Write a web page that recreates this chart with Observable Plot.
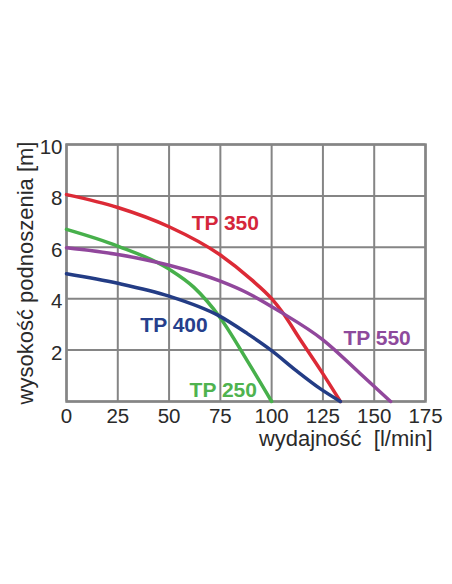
<!DOCTYPE html>
<html>
<head>
<meta charset="utf-8">
<script src="https://cdn.jsdelivr.net/npm/d3@7"></script>
<script src="https://cdn.jsdelivr.net/npm/@observablehq/plot@0.6"></script>
<style>
  body { margin: 0; background: #fff; }
</style>
</head>
<body>
<div id="chart"></div>
<script>
// pump curves: flow [l/min] vs head [m]
const tp350Q = [0, 25, 50, 75, 90, 100, 105, 114, 124, 133.5];
const tp350H = [8.05, 7.55, 6.8, 5.7, 4.75, 4.0, 3.5, 2.4, 1.2, 0];
const tp250Q = [0, 25, 50, 62, 75, 88, 100];
const tp250H = [6.7, 6.05, 5.15, 4.45, 3.25, 1.6, 0];
const tp550Q = [0, 25, 50, 75, 88, 104, 125, 143, 158];
const tp550H = [5.98, 5.72, 5.3, 4.68, 4.23, 3.5, 2.4, 1.1, 0];
const tp400Q = [0, 25, 50, 74, 88, 100, 112, 124, 133.5];
const tp400H = [4.97, 4.6, 4.1, 3.35, 2.65, 1.98, 1.2, 0.48, 0];

const labelNames = ["TP 350", "TP 400", "TP 250", "TP 550"];
const labelQ = [61, 36, 60, 135];
const labelH = [6.92, 2.95, 0.42, 2.47];
const labelColors = ["#d5263b", "#263f8c", "#4fb34f", "#8e4a9c"];

const xTicks = [0, 25, 50, 75, 100, 125, 150, 175];
const yTicks = [2, 4, 6, 8, 10];

const series = [
  {q: tp350Q, h: tp350H, color: "#dc2a36"},
  {q: tp250Q, h: tp250H, color: "#47b04b"},
  {q: tp550Q, h: tp550H, color: "#91479c"},
  {q: tp400Q, h: tp400H, color: "#233c85"}
];

const labels = labelNames.map((n, i) => ({name: n, q: labelQ[i], h: labelH[i], color: labelColors[i]}));

const gridColor = "#858585";
const textColor = "#2a2a2a";

let chart = Plot.plot({
  width: 452,
  height: 584,
  marginLeft: 66,
  marginRight: 27,
  marginTop: 144,
  marginBottom: 183,
  x: {domain: [0, 175], axis: null},
  y: {domain: [0, 10], axis: null},
  style: {
    fontFamily: "'Liberation Sans', Arial, sans-serif",
    background: "#fff"
  },
  marks: [
    Plot.text(labels, {
      x: "q", y: "h", text: "name", fill: "color",
      textAnchor: "start", fontWeight: "bold", fontSize: 21
    }),
    Plot.gridX(xTicks, {stroke: gridColor, strokeOpacity: 1, strokeWidth: 2}),
    Plot.gridY([0, 2, 4, 6, 8, 10], {stroke: gridColor, strokeOpacity: 1, strokeWidth: 2}),
    Plot.frame({stroke: gridColor, strokeWidth: 2.5}),
    ...series.map(s => Plot.line(s.q.map((q, i) => ({q, h: s.h[i]})), {
      x: "q", y: "h", stroke: s.color, strokeWidth: 3.5, curve: "monotone-x"
    })),
    // tick labels
    Plot.text(xTicks, {
      x: d => d, frameAnchor: "bottom", dy: 15, lineAnchor: "middle",
      text: d => String(d), fontSize: 20.5, fill: textColor
    }),
    Plot.text(yTicks, {
      y: d => d, frameAnchor: "left", dx: -4, dy: 3, textAnchor: "end", lineAnchor: "middle",
      text: d => String(d), fontSize: 20.5, fill: textColor
    }),
    // axis titles
    Plot.text(["wysokość podnoszenia [m]"], {
      frameAnchor: "left", rotate: -90, dx: -41, lineAnchor: "middle",
      textAnchor: "middle", fontSize: 22, fill: textColor
    }),
    Plot.text(["wydajność\u00a0 [l/min]"], {
      frameAnchor: "bottom-right", dx: 7, dy: 37, lineAnchor: "middle",
      textAnchor: "end", fontSize: 22, fill: textColor
    })
  ]
});
d3.select("#chart").append(() => chart);
</script>
</body>
</html>
